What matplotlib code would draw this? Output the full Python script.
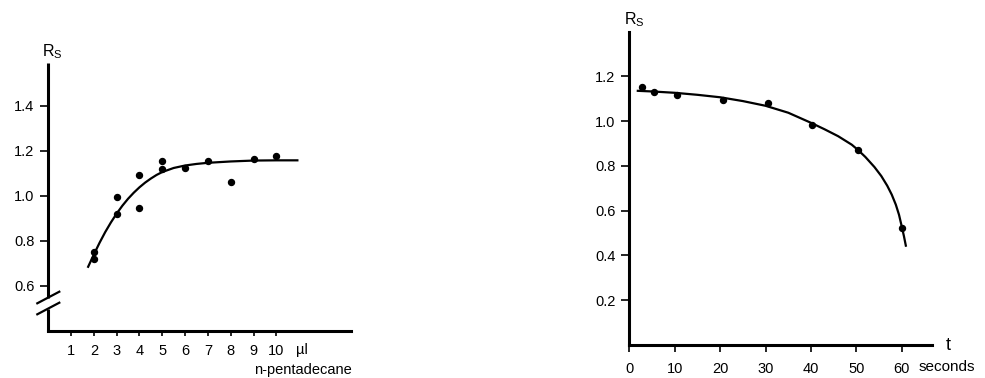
import matplotlib
matplotlib.use("Agg")
import matplotlib.pyplot as plt

plt.rcParams['font.family'] = ['Liberation Sans', 'DejaVu Sans']

# ---- Left panel data: Rs vs n-pentadecane volume (µl)
left_x = [2, 2, 3, 3, 4, 4, 5, 5, 6, 7, 8, 9, 10]
left_y = [0.749, 0.719, 0.995, 0.920, 1.091, 0.947, 1.152, 1.118, 1.122, 1.152, 1.061, 1.161, 1.177]
left_curve_x = [1.73, 2.0, 2.25, 2.5, 2.75, 3.0, 3.25, 3.5, 3.75, 4.0, 4.25, 4.5, 4.75,
                5.0, 5.5, 6.0, 6.5, 7.0, 8.0, 9.0, 10.0, 10.97]
left_curve_y = [0.679, 0.738, 0.790, 0.838, 0.881, 0.920, 0.955, 0.986, 1.013, 1.037, 1.058, 1.076, 1.092,
                1.105, 1.123, 1.134, 1.141, 1.146, 1.152, 1.156, 1.157, 1.157]
left_xticks = [1, 2, 3, 4, 5, 6, 7, 8, 9, 10]
left_yticks = [0.6, 0.8, 1.0, 1.2, 1.4]

# ---- Right panel data: Rs vs time (seconds)
right_x = [2.9, 5.5, 10.6, 20.7, 30.5, 40.3, 50.4, 60.1]
right_y = [1.152, 1.129, 1.116, 1.095, 1.083, 0.983, 0.871, 0.521]
right_curve_x = [1.63, 5, 10, 15, 20, 25, 30, 35, 40, 43, 46, 49, 50.4, 52, 54, 55.5,
                 56.8, 57.8, 58.7, 59.4, 60.0, 60.5, 60.95]
right_curve_y = [1.136, 1.133, 1.127, 1.118, 1.107, 1.090, 1.069, 1.038, 0.993, 0.964, 0.933, 0.895,
                 0.871, 0.840, 0.795, 0.755, 0.712, 0.672, 0.627, 0.582, 0.530, 0.485, 0.439]
right_xticks = [0, 10, 20, 30, 40, 50, 60]
right_yticks = [0.2, 0.4, 0.6, 0.8, 1.0, 1.2]

W, H = 985, 378
fig = plt.figure(figsize=(W / 100, H / 100), dpi=100)

def px_axes(x0, y_bottom, x1, y_top):
    return fig.add_axes([x0 / W, 1 - y_bottom / H, (x1 - x0) / W, (y_bottom - y_top) / H])

spine_lw = 2.2
fs = 10.5

# ---------------- Left
axL = px_axes(48.2, 330.5, 350.5, 63)
axL.set_xlim(0, 13.25)
axL.set_ylim(0.4, 1.59)
axL.plot(left_curve_x, left_curve_y, color='black', lw=1.6, solid_capstyle='butt', solid_joinstyle='round')
axL.plot(left_x, left_y, 'o', color='black', ms=4.3)
for s in ['top', 'right', 'left']:
    axL.spines[s].set_visible(False)
axL.spines['bottom'].set_linewidth(spine_lw)
axL.set_xticks(left_xticks)
axL.set_xticklabels([str(v) for v in left_xticks])
axL.set_yticks(left_yticks)
axL.set_yticklabels([f"{v:.1f}" for v in left_yticks])
axL.tick_params(axis='x', direction='out', length=3.5, width=1.2, pad=6, labelsize=fs)
axL.tick_params(axis='y', direction='out', length=5.5, width=1.2, pad=4.5, labelsize=fs)
# broken y axis drawn in axes coordinates
tr = axL.transAxes
hL = 330.5 - 63
def fy(py):
    return (330.5 - py) / hL
axL.plot([0, 0], [fy(331.5), fy(308.5)], color='black', lw=spine_lw, transform=tr, clip_on=False, solid_capstyle='butt')
axL.plot([0, 0], [fy(297.5), fy(63)], color='black', lw=spine_lw, transform=tr, clip_on=False, solid_capstyle='butt')
wL = 350.5 - 48.2
def fx(px):
    return (px - 48.2) / wL
axL.plot([fx(37.3), fx(59.3)], [fy(303.3), fy(291.7)], color='black', lw=1.6, transform=tr, clip_on=False)
axL.plot([fx(37.3), fx(59.3)], [fy(314.3), fy(302.7)], color='black', lw=1.6, transform=tr, clip_on=False)
fig.text(52 / W, 1 - 52 / H, r'$\mathregular{R_S}$', ha='center', va='center', fontsize=11.5)
fig.text(301.7 / W, 1 - 350 / H, 'µl', ha='center', va='center', fontsize=fs)
fig.text(352 / W, 1 - 370 / H, 'n-pentadecane', ha='right', va='center', fontsize=fs)

# ---------------- Right
axR = px_axes(629.3, 345, 931.7, 31.7)
axR.set_xlim(0, 66.6)
axR.set_ylim(0, 1.4)
axR.plot(right_curve_x, right_curve_y, color='black', lw=1.6, solid_capstyle='butt', solid_joinstyle='round')
axR.plot(right_x, right_y, 'o', color='black', ms=4.3)
for s in ['top', 'right']:
    axR.spines[s].set_visible(False)
axR.spines['bottom'].set_linewidth(spine_lw)
axR.spines['left'].set_linewidth(spine_lw)
axR.set_xticks(right_xticks)
axR.set_xticklabels([str(v) for v in right_xticks])
axR.set_yticks(right_yticks)
axR.set_yticklabels([f"{v:.1f}" for v in right_yticks])
axR.tick_params(axis='x', direction='out', length=5, width=1.2, pad=7, labelsize=fs)
axR.tick_params(axis='y', direction='out', length=5.5, width=1.2, pad=4.5, labelsize=fs)
fig.text(634 / W, 1 - 20 / H, r'$\mathregular{R_S}$', ha='center', va='center', fontsize=11.5)
fig.text(948 / W, 1 - 345 / H, 't', ha='center', va='center', fontsize=13)
fig.text(919 / W, 1 - 367 / H, 'seconds', ha='left', va='center', fontsize=11)

fig.savefig('out.png', dpi=100)
